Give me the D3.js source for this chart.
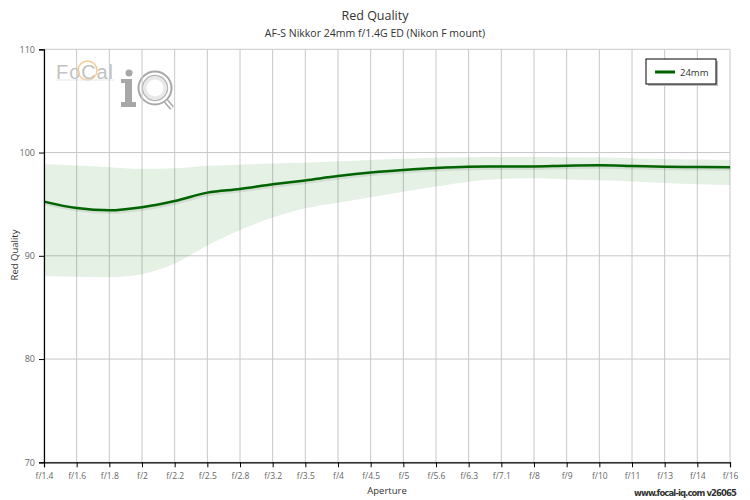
<!DOCTYPE html>
<html><head><meta charset="utf-8">
<script src="https://cdn.jsdelivr.net/npm/d3@7"></script>
<style>body{margin:0;background:#fff}svg{font-family:"Open Sans",sans-serif}</style>
</head><body><svg id="c" width="750" height="500"></svg>
<script>
const apertures = ["f/1.4","f/1.6","f/1.8","f/2","f/2.2","f/2.5","f/2.8","f/3.2","f/3.5","f/4","f/4.5","f/5","f/5.6","f/6.3","f/7.1","f/8","f/9","f/10","f/11","f/13","f/14","f/16"];
const quality = [95.25,94.62,94.4,94.7,95.3,96.12,96.48,96.92,97.3,97.72,98.06,98.3,98.5,98.62,98.65,98.66,98.73,98.76,98.7,98.63,98.6,98.58];
const upper = [98.88,98.75,98.58,98.42,98.47,98.72,98.83,98.95,99.02,99.15,99.28,99.4,99.5,99.54,99.56,99.57,99.55,99.53,99.46,99.38,99.32,99.28];
const lower = [88.05,87.98,87.93,88.22,89.25,91.0,92.5,93.7,94.6,95.15,95.67,96.2,96.7,97.18,97.45,97.5,97.4,97.32,97.2,97.05,96.92,96.86];
const yTicks = [70,80,90,100,110];
const seriesName = "24mm";

const svg = d3.select("#c");
const L = 44, R = 730, T = 49.3, B = 462.3;
const x = d3.scalePoint().domain(apertures).range([L, R]);
const y = d3.scaleLinear().domain([70,110]).range([B, T]);

// logo watermark
const logo = svg.append("g").attr("opacity",0.85);
logo.append("text").attr("x",56).attr("y",79).attr("font-size",20).attr("fill","#b8b8b8").attr("font-family","Liberation Sans, sans-serif").attr("textLength",57).text("FoCal");
logo.append("circle").attr("cx",87.5).attr("cy",70.5).attr("r",9.5).attr("fill","none").attr("stroke","#f0c48a").attr("stroke-width",1.5);
logo.append("line").attr("x1",55).attr("x2",114).attr("y1",80).attr("y2",80).attr("stroke","#ddd").attr("stroke-width",0.8);
logo.append("circle").attr("cx",129).attr("cy",73).attr("r",3.5).attr("fill","#999");
logo.append("rect").attr("x",121).attr("y",79).attr("width",10).attr("height",4).attr("fill","#999");
logo.append("rect").attr("x",125).attr("y",79).attr("width",7).attr("height",27).attr("fill","#999");
logo.append("rect").attr("x",121).attr("y",102).attr("width",15).attr("height",5).attr("fill","#999");
logo.append("circle").attr("cx",155).attr("cy",88).attr("r",16.5).attr("fill","none").attr("stroke","#999").attr("stroke-width",2);
logo.append("circle").attr("cx",155).attr("cy",88).attr("r",12.5).attr("fill","none").attr("stroke","#aaa").attr("stroke-width",1.5);
logo.append("circle").attr("cx",155).attr("cy",88).attr("r",10).attr("fill","none").attr("stroke","#e4e4e4").attr("stroke-width",3);
logo.append("line").attr("x1",166).attr("y1",101).attr("x2",172).attr("y2",108).attr("stroke","#999").attr("stroke-width",5);
logo.append("line").attr("x1",166).attr("y1",101).attr("x2",172).attr("y2",108).attr("stroke","#fff").attr("stroke-width",2);

// grid
svg.append("g").selectAll("line").data(apertures).join("line")
  .attr("x1",d=>x(d)).attr("x2",d=>x(d)).attr("y1",T).attr("y2",B)
  .attr("stroke","#c8c8c8").attr("stroke-width",1);
svg.append("g").selectAll("line").data(yTicks).join("line")
  .attr("x1",L).attr("x2",R).attr("y1",d=>y(d)).attr("y2",d=>y(d))
  .attr("stroke","#c8c8c8").attr("stroke-width",1);

// band
const idx = d3.range(apertures.length);
const area = d3.area().x(i=>x(apertures[i])).y0(i=>y(lower[i])).y1(i=>y(upper[i])).curve(d3.curveMonotoneX);
svg.append("path").datum(idx).attr("d",area).attr("fill","rgba(0,120,0,0.1)");

// line with shadow
const line = d3.line().x(i=>x(apertures[i])).y(i=>y(quality[i])).curve(d3.curveMonotoneX);
svg.append("path").datum(idx).attr("d",line).attr("fill","none").attr("stroke","rgba(0,0,0,0.08)").attr("stroke-width",5).attr("transform","translate(1,1)");
svg.append("path").datum(idx).attr("d",line).attr("fill","none").attr("stroke","#006400").attr("stroke-width",2.5);

// axes
const xa = svg.append("g").attr("transform",`translate(0,${B})`)
  .call(d3.axisBottom(x).tickSize(5).tickPadding(6));
xa.select(".domain").attr("stroke","#000").attr("stroke-width",1.2);
xa.selectAll(".tick line").attr("stroke","#000");
xa.selectAll("text").attr("font-size",8.5).attr("fill","#666").attr("font-family","Open Sans, sans-serif");
const ya = svg.append("g").attr("transform",`translate(${L},0)`)
  .call(d3.axisLeft(y).tickValues(yTicks).tickSize(5).tickPadding(4));
ya.select(".domain").attr("stroke","#000").attr("stroke-width",1.2);
ya.selectAll(".tick line").attr("stroke","#000");
ya.selectAll("text").attr("font-size",9).attr("fill","#666").attr("font-family","Open Sans, sans-serif");

// titles
svg.append("text").attr("x",375).attr("y",20).attr("text-anchor","middle").attr("font-size",12.5).attr("fill","#333").text("Red Quality");
svg.append("text").attr("x",375).attr("y",37).attr("text-anchor","middle").attr("font-size",10.5).attr("fill","#333").text("AF-S Nikkor 24mm f/1.4G ED (Nikon F mount)");
svg.append("text").attr("x",387).attr("y",494).attr("text-anchor","middle").attr("font-size",9.5).attr("fill","#333").text("Aperture");
svg.append("text").attr("transform","translate(18,255) rotate(-90)").attr("text-anchor","middle").attr("font-size",9.5).attr("fill","#333").text("Red Quality");
svg.append("text").attr("x",737).attr("y",496).attr("text-anchor","end").attr("font-size",8.5).attr("font-weight","bold").attr("fill","#333").attr("font-family","DejaVu Sans, sans-serif").attr("textLength",103).text("www.focal-iq.com  v26065");

// legend
const lg = svg.append("g");
lg.append("rect").attr("x",648).attr("y",61).attr("width",70).attr("height",25).attr("fill","#bbb");
lg.append("rect").attr("x",646).attr("y",59).attr("width",70).attr("height",25).attr("fill","#fff").attr("stroke","#000").attr("stroke-width",1);
lg.append("line").attr("x1",655).attr("x2",675).attr("y1",72).attr("y2",72).attr("stroke","#006400").attr("stroke-width",3);
lg.append("text").attr("x",680).attr("y",75.5).attr("font-size",9.5).attr("fill","#333").text(seriesName);
</script></body></html>
